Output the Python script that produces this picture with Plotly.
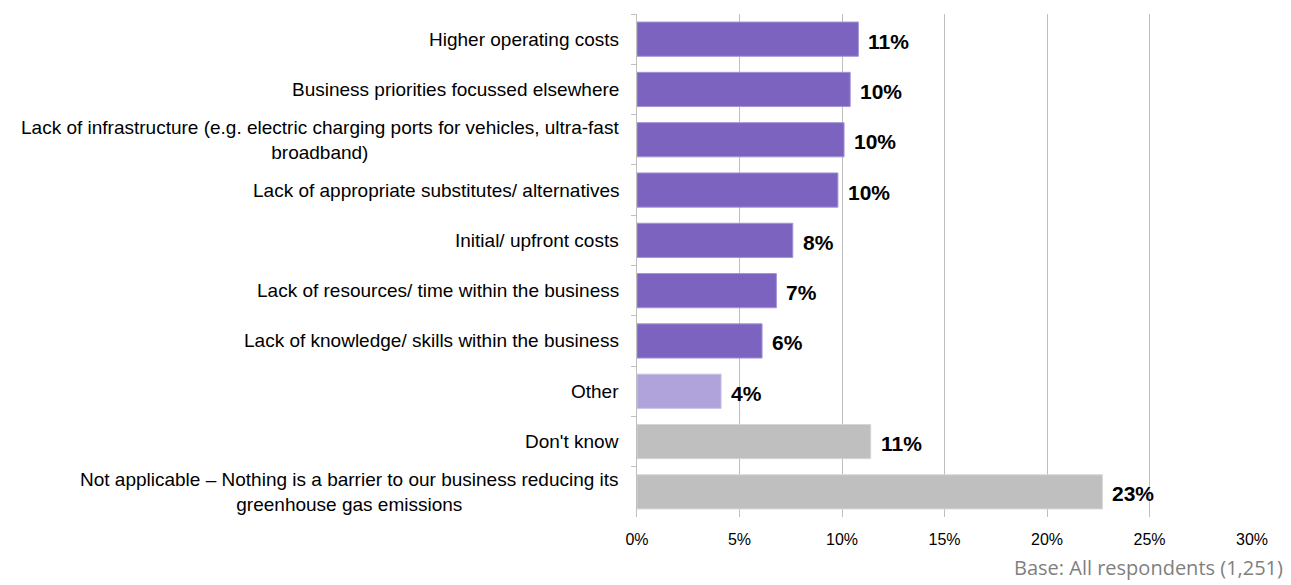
import plotly.graph_objects as go

# Barriers to reducing greenhouse gas emissions (% of respondents)
categories = [
    "Higher operating costs",
    "Business priorities focussed elsewhere",
    "Lack of infrastructure (e.g. electric charging ports for vehicles, ultra-fast<br>broadband)",
    "Lack of appropriate substitutes/ alternatives",
    "Initial/ upfront costs",
    "Lack of resources/ time within the business",
    "Lack of knowledge/ skills within the business",
    "Other",
    "Don't know",
    "Not applicable \u2013 Nothing is a barrier to our business reducing its<br>greenhouse gas emissions",
]
values = [10.8, 10.4, 10.1, 9.8, 7.6, 6.8, 6.1, 4.1, 11.4, 22.7]
groups = ["barrier"] * 7 + ["other", "none", "none"]

x_ticks = [0, 5, 10, 15, 20, 25, 30]
x_tick_labels = ["0%", "5%", "10%", "15%", "20%", "25%", "30%"]
base_note = "Base: All respondents (1,251)"

fill = {"barrier": "#7B63BF", "other": "#B0A3DB", "none": "#BFBFBF"}
edge = {"barrier": "#A393D6", "other": "#C9BFE6", "none": "#D6D6D6"}

fig = go.Figure(
    go.Bar(
        x=values,
        y=categories,
        orientation="h",
        marker=dict(
            color=[fill[g] for g in groups],
            line=dict(color=[edge[g] for g in groups], width=1),
        ),
        hoverinfo="skip",
    )
)

annotations = []
for cat, v in zip(categories, values):
    # category label, centred lines, right-aligned block
    annotations.append(dict(
        x=0, xref="paper", y=cat, yref="y", xanchor="right", yanchor="middle",
        xshift=-16, text=cat, showarrow=False, align="center",
        font=dict(family="Liberation Sans, Arial", size=19, color="#000000"),
    ))
    # value label beside the bar
    annotations.append(dict(
        x=v, xref="x", y=cat, yref="y", xanchor="left", yanchor="middle",
        xshift=8, yshift=-2, text=f"<b>{v:.0f}%</b>", showarrow=False,
        font=dict(family="Liberation Sans, Arial", size=21, color="#000000"),
    ))

annotations.append(dict(
    x=1, xref="paper", y=0, yref="paper", xanchor="right", yanchor="middle",
    xshift=33, yshift=-50, text=base_note, showarrow=False,
    font=dict(family="Open Sans", size=20, color="#7F7F7F"),
))

fig.update_layout(
    width=1291, height=585,
    margin=dict(l=637, r=39, t=14, b=68),
    paper_bgcolor="white", plot_bgcolor="white",
    bargap=0.32,
    showlegend=False,
    annotations=annotations,
    xaxis=dict(
        range=[0, 30], tickvals=x_ticks, ticktext=x_tick_labels,
        showgrid=True, gridcolor="#BFBFBF", gridwidth=1,
        zeroline=False, showline=False, ticks="",
        ticklabelstandoff=11,
        tickfont=dict(family="Liberation Sans, Arial", size=16, color="#000000"),
        fixedrange=True,
    ),
    yaxis=dict(
        autorange="reversed", type="category",
        showticklabels=False, tickson="boundaries",
        ticks="outside", ticklen=5, tickcolor="#BFBFBF",
        showline=True, linecolor="#BFBFBF", linewidth=1,
        showgrid=False, fixedrange=True,
    ),
)

fig.write_html("out.html")
